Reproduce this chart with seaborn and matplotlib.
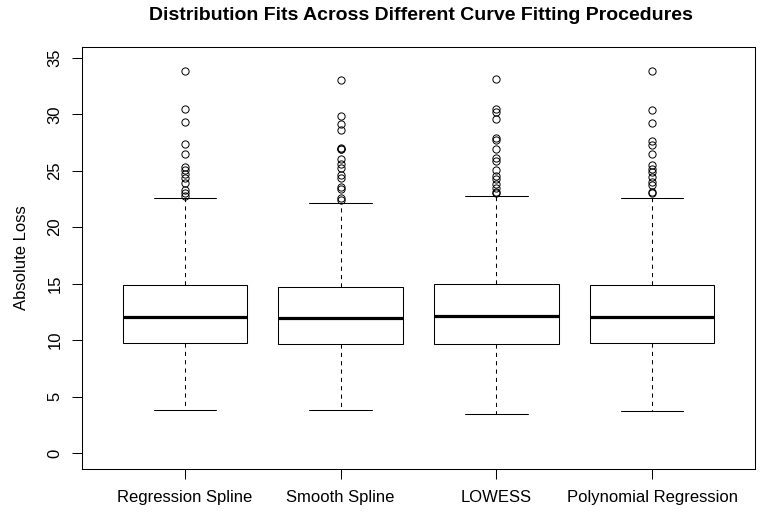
import numpy as np
import matplotlib
matplotlib.use("Agg")
import matplotlib.pyplot as plt
import pandas as pd
import seaborn as sns

methods = ["Regression Spline", "Smooth Spline", "LOWESS", "Polynomial Regression"]

# box summaries
whisker_low = [3.78, 3.80, 3.42, 3.74]
q1 = [9.72, 9.68, 9.68, 9.71]
medians = [12.05, 11.93, 12.10, 12.05]
q3 = [14.90, 14.73, 14.97, 14.91]
whisker_high = [22.62, 22.17, 22.79, 22.61]

outliers_rs = [33.84, 30.44, 29.32, 27.34, 26.48, 25.36, 25.07, 24.70, 24.38,
               23.94, 23.29, 23.00, 22.75]
outliers_ss = [33.00, 29.85, 29.14, 28.60, 27.04, 26.90, 26.90, 26.04, 25.57,
               25.20, 24.60, 24.40, 23.60, 23.40, 22.60, 22.40]
outliers_lo = [33.15, 30.44, 30.20, 29.56, 27.93, 27.70, 26.90, 26.10, 25.90,
               25.07, 24.56, 24.24, 23.83, 23.50, 23.15, 23.00]
outliers_pr = [33.86, 30.38, 29.20, 27.67, 27.28, 26.48, 25.50, 25.18, 24.86,
               24.47, 24.03, 23.74, 23.15, 23.00]
outliers = [outliers_rs, outliers_ss, outliers_lo, outliers_pr]

# rebuild a sample per method whose quartiles/whiskers give the boxes above
rows = []
for i, m in enumerate(methods):
    vals = ([whisker_low[i]] + [q1[i]] * 100 + [medians[i]] * 100 +
            [q3[i]] * 100 + [whisker_high[i]] + outliers[i])
    for v in vals:
        rows.append((m, v))
df = pd.DataFrame(rows, columns=["method", "loss"])

sns.set_style("white")
plt.rcParams['font.family'] = ['Liberation Sans', 'DejaVu Sans']
plt.rcParams['text.color'] = 'black'
plt.rcParams['axes.labelcolor'] = 'black'
plt.rcParams['xtick.color'] = 'black'
plt.rcParams['ytick.color'] = 'black'

fig = plt.figure(figsize=(7.64, 5.16), dpi=100)
ax = fig.add_axes([82 / 764, 47 / 516, 673 / 764, 422 / 516])

lw = 0.75
sns.boxplot(data=df, x="method", y="loss", order=methods, ax=ax,
            color="white", linecolor="black", linewidth=lw, width=0.8,
            whiskerprops=dict(linestyle=(0, (4, 4)), linewidth=lw),
            capprops=dict(linewidth=lw),
            medianprops=dict(linewidth=2.3, color="black"),
            flierprops=dict(marker="o", markersize=5.2, markerfacecolor="none",
                            markeredgecolor="black", markeredgewidth=0.7))

ax.set_xlim(-0.66, 3.66)
ax.set_ylim(-1.42, 35.96)
ax.set_yticks(np.arange(0, 36, 5))
ax.set_yticklabels([str(v) for v in range(0, 36, 5)], rotation=90, va="center")
ax.tick_params(axis="both", direction="out", length=7, width=lw, labelsize=12,
               left=True, bottom=True, pad=7)
ax.tick_params(axis="x", pad=8)
for s in ax.spines.values():
    s.set_visible(True)
    s.set_color("black")
    s.set_linewidth(lw)

ax.set_xlabel("")
ax.set_ylabel("Absolute Loss", fontsize=12, labelpad=13.5)
fig.text(421 / 764, 1 - 15.5 / 516, "Distribution Fits Across Different Curve Fitting Procedures",
         ha="center", va="center", fontsize=14, fontweight="bold")

plt.savefig("out.png", dpi=100)
